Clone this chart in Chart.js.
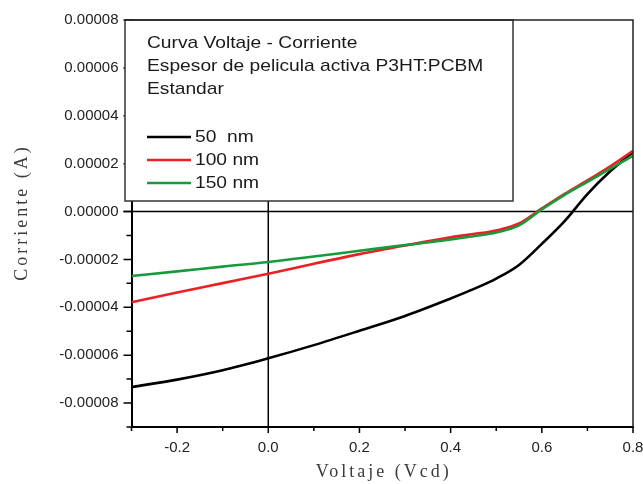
<!DOCTYPE html>
<html>
<head>
<meta charset="utf-8">
<script src="https://cdn.jsdelivr.net/npm/chart.js@4/dist/chart.umd.min.js"></script>
<style>
  html, body { margin: 0; padding: 0; background: #fff; }
  #wrap { width: 643px; height: 484px; position: relative; }
</style>
</head>
<body>
<div id="wrap"><canvas id="c" width="643" height="484"></canvas></div>
<script>
// ---- data (Voltaje in V, Corriente in A) ----
const voltaje = [-0.3, -0.2, -0.1, 0.0, 0.1, 0.2, 0.3, 0.4, 0.45, 0.5, 0.55, 0.6, 0.65, 0.7, 0.75, 0.8];
const corriente50 = [-73.3e-6, -70.2e-6, -66.3e-6, -61.3e-6, -55.8e-6, -49.8e-6, -43.6e-6, -36.3e-6, -32.4e-6, -28.0e-6, -22.3e-6, -13.5e-6, -4.0e-6, 7.3e-6, 16.8e-6, 24.8e-6];
const corriente100 = [-37.9e-6, -33.8e-6, -29.9e-6, -26.0e-6, -21.8e-6, -17.8e-6, -14.2e-6, -10.8e-6, -9.4e-6, -7.9e-6, -5.0e-6, 1.3e-6, 7.4e-6, 13.0e-6, 18.9e-6, 25.4e-6];
const corriente150 = [-26.9e-6, -25.0e-6, -23.0e-6, -21.1e-6, -18.8e-6, -16.4e-6, -14.0e-6, -11.7e-6, -10.3e-6, -8.8e-6, -5.8e-6, 0.9e-6, 7.0e-6, 12.4e-6, 17.9e-6, 23.3e-6];
const seriesLabels = ['50  nm', '100 nm', '150 nm'];
const legendTitle = ['Curva Voltaje - Corriente', 'Espesor de pelicula activa P3HT:PCBM', 'Estandar'];
const xTitle = 'Voltaje (Vcd)';
const yTitle = 'Corriente (A)';
const xMin = -0.3, xMax = 0.8, xStep = 0.1;
const yMin = -0.00009, yMax = 0.00008, yStep = 0.00001;

const colors = ['#000000', '#ee1f24', '#169a3c'];
const seriesData = [corriente50, corriente100, corriente150];

const datasets = seriesData.map((arr, i) => ({
  label: seriesLabels[i],
  data: voltaje.map((v, j) => ({ x: v, y: arr[j] })),
  borderColor: colors[i],
  backgroundColor: colors[i],
  borderWidth: 2.6,
  pointRadius: 0,
  cubicInterpolationMode: 'monotone',
  fill: false,
  order: 3 - i
}));

const decorPlugin = {
  id: 'decor',
  beforeDatasetsDraw(chart) {
    const { ctx, chartArea: a, scales } = chart;
    const x0 = scales.x.getPixelForValue(0);
    const y0 = scales.y.getPixelForValue(0);
    ctx.save();
    ctx.strokeStyle = '#000';
    ctx.lineWidth = 1.5;
    ctx.beginPath();
    ctx.moveTo(a.left - 8, y0); ctx.lineTo(a.right, y0);
    ctx.moveTo(x0, a.top); ctx.lineTo(x0, a.bottom);
    ctx.stroke();
    ctx.restore();
  },
  afterDatasetsDraw(chart) {
    const { ctx, chartArea: a, scales } = chart;
    ctx.save();
    // tick marks
    ctx.strokeStyle = '#000';
    ctx.lineWidth = 1.5;
    ctx.beginPath();
    scales.x.ticks.forEach(t => {
      const px = scales.x.getPixelForValue(t.value);
      const major = Math.round(t.value * 10) % 2 === 0;
      ctx.moveTo(px, a.bottom); ctx.lineTo(px, a.bottom + (major ? 6 : 4));
    });
    scales.y.ticks.forEach(t => {
      const py = scales.y.getPixelForValue(t.value);
      const major = Math.round(t.value * 1e5) % 2 === 0;
      ctx.moveTo(a.left, py); ctx.lineTo(a.left - (major ? 8 : 5), py);
    });
    ctx.stroke();
    // legend box
    const bx = a.left - 6.5, by = a.top, bw = 388, bh = 181;
    ctx.fillStyle = '#fff';
    ctx.fillRect(bx, by, bw, bh);
    ctx.strokeStyle = '#333';
    ctx.lineWidth = 1.5;
    ctx.strokeRect(bx, by, bw, bh);
    const drawStretched = (txt, x, y) => {
      ctx.save();
      ctx.translate(x, y);
      ctx.scale(1.13, 1);
      ctx.fillText(txt, 0, 0);
      ctx.restore();
    };
    ctx.fillStyle = '#1a1a1a';
    ctx.font = '17px "Liberation Sans", Arial, sans-serif';
    ctx.textBaseline = 'middle';
    ctx.textAlign = 'left';
    const titleY = [43, 66, 89];
    legendTitle.forEach((t, i) => drawStretched(t, 147, titleY[i]));
    const itemY = [137, 160, 183];
    chart.data.datasets.forEach((ds, i) => {
      ctx.strokeStyle = ds.borderColor;
      ctx.lineWidth = 2.6;
      ctx.beginPath();
      ctx.moveTo(147, itemY[i]); ctx.lineTo(191, itemY[i]);
      ctx.stroke();
      ctx.fillStyle = '#1a1a1a';
      drawStretched(ds.label, 195, itemY[i]);
    });
    // frame top & right
    ctx.strokeStyle = '#222';
    ctx.lineWidth = 1.5;
    ctx.beginPath();
    ctx.moveTo(bx, a.top); ctx.lineTo(a.right, a.top); ctx.lineTo(a.right, a.bottom);
    ctx.stroke();
    // axis titles
    ctx.fillStyle = '#3a3a3a';
    ctx.font = '18px "Liberation Serif", "DejaVu Serif", serif';
    ctx.letterSpacing = '3px';
    ctx.textAlign = 'center';
    ctx.textBaseline = 'middle';
    ctx.save();
    ctx.translate((a.left + a.right) / 2 + 1.5, 472);
    ctx.scale(1.0, 1.1);
    ctx.fillText(xTitle, 0, 0);
    ctx.restore();
    ctx.save();
    ctx.translate(22, 214);
    ctx.rotate(-Math.PI / 2);
    ctx.scale(1.0, 1.1);
    ctx.fillText(yTitle, 1.5, 0);
    ctx.restore();
    ctx.restore();
  }
};

new Chart(document.getElementById('c'), {
  type: 'line',
  data: { datasets },
  options: {
    responsive: false,
    animation: false,
    layout: { padding: { left: 0, right: 10, top: 20, bottom: 0 } },
    plugins: { legend: { display: false }, tooltip: { enabled: false }, title: { display: false } },
    scales: {
      x: {
        type: 'linear',
        min: xMin, max: xMax,
        afterFit(s) { s.height = 57; s.paddingLeft = 0; s.paddingRight = 0; },
        border: { display: true, color: '#000', width: 2 },
        grid: { display: true, drawOnChartArea: false, drawTicks: true, tickLength: 6, color: 'rgba(0,0,0,0)', tickColor: 'rgba(0,0,0,0)' },
        ticks: {
          stepSize: xStep, autoSkip: false, maxRotation: 0, padding: 6,
          color: '#222', font: { family: '"Liberation Sans", Arial, sans-serif', size: 15 },
          callback(v) { const n = Math.round(v * 10); return n % 2 === 0 ? (n / 10).toFixed(1) : ''; }
        }
      },
      y: {
        type: 'linear',
        min: yMin, max: yMax,
        afterFit(s) { s.width = 131.5; s.paddingTop = 0; s.paddingBottom = 0; },
        border: { display: true, color: '#000', width: 2 },
        grid: { display: true, drawOnChartArea: false, drawTicks: true, tickLength: 6, color: 'rgba(0,0,0,0)', tickColor: 'rgba(0,0,0,0)' },
        ticks: {
          stepSize: yStep, autoSkip: false, padding: 7,
          color: '#222', font: { family: '"Liberation Sans", Arial, sans-serif', size: 15 },
          callback(v) { const n = Math.round(v * 1e5); return n % 2 === 0 ? (n / 1e5).toFixed(5) : ''; }
        }
      }
    }
  },
  plugins: [decorPlugin]
});
</script>
</body>
</html>
